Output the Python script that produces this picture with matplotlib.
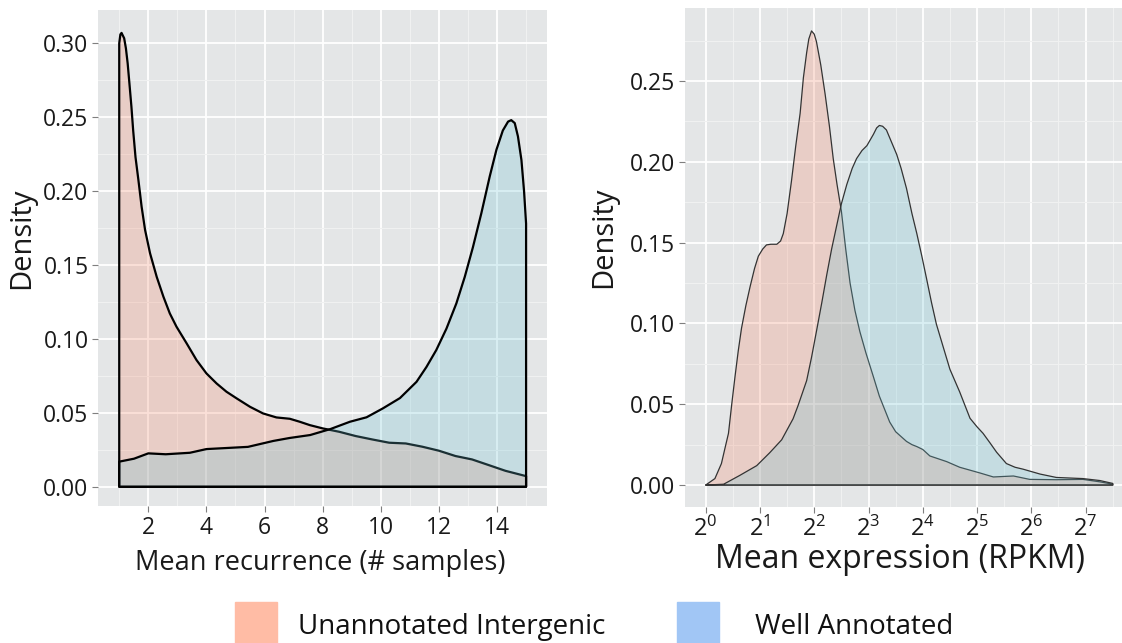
import numpy as np
import matplotlib
matplotlib.use("Agg")
import matplotlib.pyplot as plt
from matplotlib.patches import Rectangle

plt.rcParams['font.family'] = ['Open Sans', 'DejaVu Sans']
plt.rcParams['mathtext.fontset'] = 'custom'
plt.rcParams['mathtext.rm'] = 'Open Sans'

# left panel: mean recurrence (# samples)
REC_X_UN = [1.0, 1.04, 1.08, 1.17, 1.23, 1.29, 1.35, 1.42, 1.48, 1.56, 1.66, 1.77, 1.89,
            2.06, 2.29, 2.52, 2.74, 2.97, 3.32, 3.66, 4.0, 4.35, 4.69, 5.04, 5.5, 5.95,
            6.41, 6.87, 7.21, 7.56, 8.0, 8.57, 9.14, 9.71, 10.29, 10.86, 11.43, 12.0,
            12.57, 13.14, 13.71, 14.29, 15.0]
REC_Y_UN = [0.300, 0.306, 0.307, 0.3034, 0.2966, 0.2865, 0.273, 0.257, 0.241, 0.223,
            0.2075, 0.1895, 0.1737, 0.158, 0.142, 0.1286, 0.1173, 0.1083, 0.097, 0.0857,
            0.0767, 0.0699, 0.0643, 0.0598, 0.0541, 0.0496, 0.0469, 0.046, 0.044, 0.0417,
            0.0395, 0.0372, 0.0343, 0.032, 0.0298, 0.0293, 0.0271, 0.0244, 0.0208,
            0.0185, 0.0147, 0.0108, 0.0072]

REC_X_WA = [1.0, 1.51, 2.0, 2.6, 3.43, 4.0, 5.43, 6.3, 6.86, 7.57, 8.26, 8.94, 9.51,
            10.07, 10.66, 11.23, 11.57, 11.91, 12.26, 12.6, 12.89, 13.17, 13.46, 13.75,
            13.98, 14.2, 14.38, 14.49, 14.61, 14.72, 14.84, 14.93, 15.0]
REC_Y_WA = [0.017, 0.019, 0.0226, 0.022, 0.023, 0.0255, 0.027, 0.031, 0.033, 0.035,
            0.039, 0.044, 0.047, 0.053, 0.060, 0.071, 0.081, 0.0925, 0.107, 0.124,
            0.142, 0.162, 0.185, 0.21, 0.228, 0.241, 0.247, 0.248, 0.246, 0.237, 0.221,
            0.200, 0.178]

# right panel: mean expression, log2 RPKM
EXP_X_UN = [0, 0.17, 0.29, 0.35, 0.42, 0.48, 0.54, 0.6, 0.66, 0.74, 0.82, 0.9, 0.97,
            1.05, 1.12, 1.2, 1.31, 1.38, 1.43, 1.5, 1.58, 1.66, 1.74, 1.8, 1.86, 1.9,
            1.95, 2.0, 2.04, 2.12, 2.20, 2.28, 2.35, 2.42, 2.50, 2.58, 2.66, 2.75, 2.84,
            2.95, 3.09, 3.2, 3.39, 3.5, 3.70, 3.8, 3.89, 4.0, 4.13, 4.44, 4.68, 5.05,
            5.30, 5.67, 5.97, 6.46, 6.95, 7.26, 7.5]
EXP_Y_UN = [0, 0.004, 0.0133, 0.022, 0.032, 0.05, 0.067, 0.083, 0.097, 0.111, 0.123,
            0.134, 0.1416, 0.146, 0.1486, 0.149, 0.149, 0.151, 0.1556, 0.168, 0.188,
            0.21, 0.230, 0.252, 0.2675, 0.276, 0.281, 0.279, 0.2745, 0.26, 0.242, 0.222,
            0.202, 0.186, 0.1695, 0.146, 0.125, 0.108, 0.095, 0.082, 0.067, 0.055,
            0.039, 0.033, 0.027, 0.025, 0.0238, 0.022, 0.018, 0.0145, 0.011, 0.0075,
            0.005, 0.0056, 0.0035, 0.0033, 0.0035, 0.002, 0.0005]

EXP_X_WA = [0, 0.33, 0.63, 0.94, 1.18, 1.40, 1.61, 1.7, 1.86, 1.95, 2.04, 2.14, 2.23,
            2.32, 2.41, 2.5, 2.60, 2.7, 2.78, 2.88, 2.97, 3.09, 3.15, 3.20, 3.26, 3.33,
            3.52, 3.6, 3.70, 3.8, 3.89, 3.98, 4.07, 4.16, 4.25, 4.38, 4.50, 4.68, 4.78,
            4.87, 5.0, 5.11, 5.24, 5.36, 5.54, 5.7, 5.85, 6.16, 6.46, 6.95, 7.26, 7.5]
EXP_Y_WA = [0, 0.0005, 0.006, 0.012, 0.020, 0.028, 0.041, 0.049, 0.0646, 0.079, 0.095,
            0.113, 0.130, 0.146, 0.160, 0.174, 0.186, 0.196, 0.202, 0.207, 0.210, 0.217,
            0.221, 0.2225, 0.222, 0.2197, 0.2045, 0.196, 0.1835, 0.168, 0.1556, 0.142,
            0.1276, 0.113, 0.0996, 0.085, 0.0716, 0.0576, 0.049, 0.0413, 0.036, 0.032,
            0.026, 0.0203, 0.0133, 0.011, 0.0098, 0.0068, 0.0047, 0.004, 0.0028, 0.001]

LABELS = ['Unannotated Intergenic', 'Well Annotated']
FILL_UN = (244/255, 134/255, 103/255, 0.25)
FILL_WA = (108/255, 194/255, 211/255, 0.25)
KEY_COLORS = ['#FFBCA5', '#A1C6F5']
PANEL_BG = '#E4E6E7'


def style_panel(ax, xmajor, xminor, ymajor, yminor):
    ax.set_facecolor(PANEL_BG)
    for s in ax.spines.values():
        s.set_visible(False)
    ax.set_xticks(xmajor)
    ax.set_xticks(xminor, minor=True)
    ax.set_yticks(ymajor)
    ax.set_yticks(yminor, minor=True)
    ax.grid(which='major', color='white', lw=1.3)
    ax.grid(which='minor', color='#F0F1F1', lw=0.8)
    ax.set_axisbelow(True)
    ax.tick_params(which='major', length=4, width=0.8, color='#7F7F7F',
                   labelsize=16.5, labelcolor='#1A1A1A', pad=3)
    ax.tick_params(which='minor', length=0)


def density(ax, x, y, face, edge, lw):
    x = np.asarray(x)
    y = np.asarray(y)
    ax.fill(np.r_[x[0], x, x[-1]], np.r_[0, y, 0], facecolor=face,
            edgecolor=edge, lw=lw, joinstyle='round')


fig = plt.figure(figsize=(11.22, 6.43), dpi=100)
W, H = 1122, 643

ax1 = fig.add_axes([98.3 / W, 1 - 506 / H, 449 / W, 496 / H])
density(ax1, REC_X_UN, REC_Y_UN, FILL_UN, 'black', 1.6)
density(ax1, REC_X_WA, REC_Y_WA, FILL_WA, 'black', 1.6)
ax1.set_xlim(0.28, 15.73)
ax1.set_ylim(-0.013, 0.3225)
style_panel(ax1, np.arange(2, 15, 2), np.arange(1, 16, 2),
            np.arange(0, 0.31, 0.05), np.arange(0.025, 0.31, 0.05))
ax1.yaxis.set_major_formatter(matplotlib.ticker.FormatStrFormatter('%.2f'))

ax2 = fig.add_axes([685 / W, 1 - 506.7 / H, 437 / W, 498.4 / H])
density(ax2, EXP_X_UN, EXP_Y_UN, FILL_UN, '#333333', 0.9)
density(ax2, EXP_X_WA, EXP_Y_WA, FILL_WA, '#333333', 0.9)
ax2.set_xlim(-0.381, 7.67)
ax2.set_ylim(-0.0134, 0.295)
style_panel(ax2, np.arange(0, 8), np.arange(0.5, 8, 1),
            np.arange(0, 0.26, 0.05), np.arange(0.025, 0.28, 0.05))
ax2.yaxis.set_major_formatter(matplotlib.ticker.FormatStrFormatter('%.2f'))
ax2.set_xticklabels([r'$\mathregular{2^{%d}}$' % k for k in range(8)], fontsize=17)

# axis titles
fig.text(22 / W, 1 - 238 / H, 'Density', rotation=90, ha='center', va='center',
         fontsize=21, color='#1A1A1A')
fig.text(604 / W, 1 - 237 / H, 'Density', rotation=90, ha='center', va='center',
         fontsize=21, color='#1A1A1A')
fig.text(320 / W, 1 - 563 / H, 'Mean recurrence (# samples)', ha='center',
         va='center', fontsize=19.5, color='#1A1A1A')
fig.text(900 / W, 1 - 560 / H, 'Mean expression (RPKM)', ha='center',
         va='center', fontsize=23, color='#1A1A1A')

# shared key along the bottom
key_x = [235, 677]
text_x = [298, 755]
for kx, tx, col, lab in zip(key_x, text_x, KEY_COLORS, LABELS):
    fig.patches.append(Rectangle((kx / W, 0), 42 / W, 41.5 / H, color=col,
                                 transform=fig.transFigure, figure=fig))
    fig.text(tx / W, 1 - 627 / H, lab, ha='left', va='center', fontsize=20,
             color='#111111')

fig.savefig('out.png', dpi=100)
